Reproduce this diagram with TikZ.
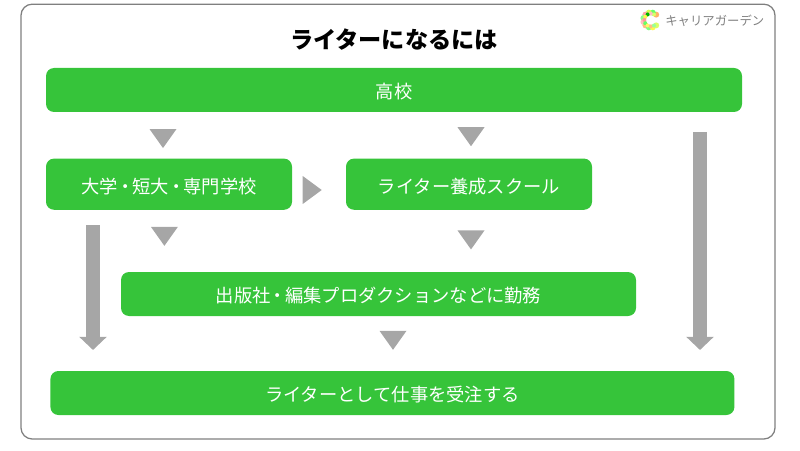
\documentclass[tikz,border=0pt]{standalone}
\usepackage{fontspec}
\setmainfont{Noto Sans CJK JP}
\usetikzlibrary{shapes.geometric,arrows.meta}
\definecolor{boxgreen}{HTML}{36C43A}
\definecolor{arrowgray}{HTML}{A6A6A6}
\definecolor{framegray}{HTML}{7F7F7F}
\definecolor{logogray}{HTML}{808080}
\newcommand{\tightdot}{\kern-1.3pt・\kern-1.3pt}
\tikzset{stagebox/.style={fill=boxgreen, text=white, rounded corners=0.2cm, inner sep=0pt, text height=13.4pt, text depth=0.6pt, font=\fontsize{13}{15}\selectfont},
	downmark/.style={fill=arrowgray, isosceles triangle, isosceles triangle stretches, shape border rotate=-90, minimum width=0.675cm, minimum height=0.475cm, inner sep=0pt},
	rightmark/.style={downmark, shape border rotate=0, minimum width=0.7cm},
	longarrow/.style={draw=arrowgray, line width=0.35cm, -{Triangle[length=0.33cm,width=0.67cm]}}}

\begin{document}
\begin{tikzpicture}
		\useasboundingbox (0,0) rectangle (20,11.25);
		\node[draw=framegray, line width=0.9pt, rounded corners=0.28cm, minimum width=18.85cm, minimum height=10.87cm] (frame) at (9.95,5.71){};
		\node[font=\fontsize{16.5}{18}\selectfont\bfseries] (title) at (9.85,10.27){ライターになるには};
		% logo
		\foreach \ang/\col in {45/orange!60,75/green!60,105/lime!70,135/red!35,165/green!45,195/pink,225/orange!50,255/green!50,285/yellow!70,315/lime!60}
			\fill[\col] (16.27,10.75)+(\ang:0.19) circle (0.075);
		\foreach \ang/\col in {60/lime!60,90/pink,120/green!70!black,150/yellow!70,180/red!40,210/green!60,240/yellow!60,270/orange!50,300/green!40}
			\fill[\col] (16.27,10.75)+(\ang:0.16) circle (0.05);
		\node[text=logogray, font=\fontsize{8.8}{10}\selectfont] (logo) at (17.87,10.74){キャリアガーデン};
		% boxes
		\node[stagebox, minimum width=17.4cm, minimum height=1.1cm] (school) at (9.85,9){高校};
		\node[stagebox, minimum width=6.15cm, minimum height=1.28cm] (univ) at (4.225,6.645){大学\tightdot 短大\tightdot 専門学校};
		\node[stagebox, minimum width=6.15cm, minimum height=1.28cm] (training) at (11.725,6.645){ライター養成スクール};
		\node[stagebox, minimum width=12.875cm, minimum height=1.1cm] (company) at (9.4625,3.9){出版社\tightdot 編集プロダクションなどに勤務};
		\node[stagebox, minimum width=17.1cm, minimum height=1.1cm] (writer) at (9.81,1.425){ライターとして仕事を受注する};
		% small marks
		\node[downmark] (m1) at (4.075,7.85){};
		\node[downmark] (m2) at (11.775,7.895){};
		\node[rightmark] (m3) at (7.745,6.5){};
		\node[downmark] (m4) at (4.11,5.405){};
		\node[downmark] (m5) at (11.775,5.315){};
		\node[downmark] (m6) at (9.825,2.805){};
		% long arrows
		\coordinate (leftstart) at (2.325,5.62);
		\coordinate (leftend) at (2.325,2.5);
		\coordinate (rightstart) at (17.5,7.95);
		\coordinate (rightend) at (17.5,2.5);
		\draw[longarrow] (leftstart) -- (leftend);
		\draw[longarrow] (rightstart) -- (rightend);
		\end{tikzpicture}
\end{document}
